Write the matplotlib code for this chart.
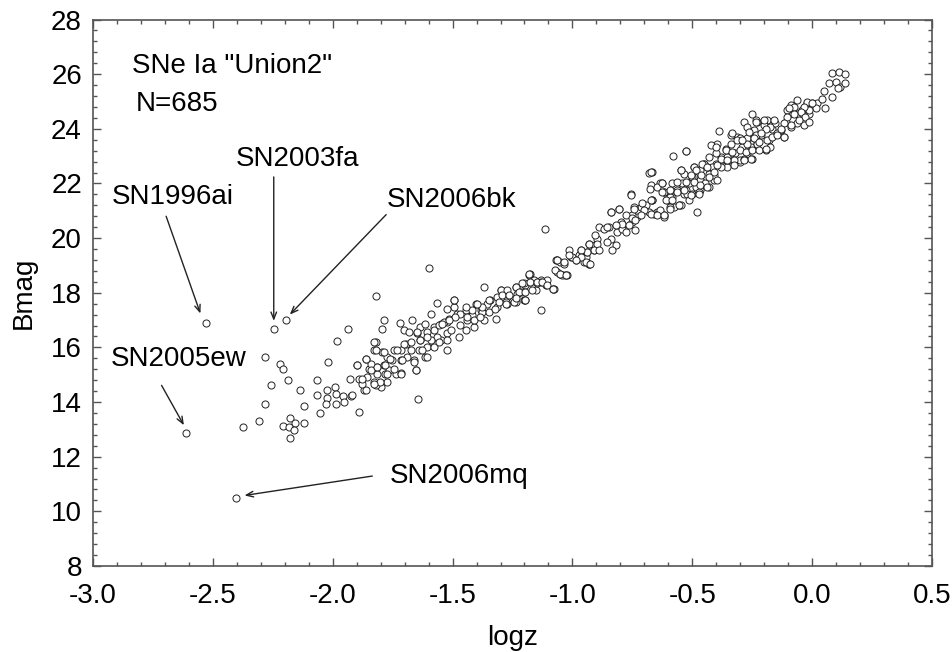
import matplotlib
matplotlib.use("Agg")
import matplotlib.pyplot as plt

plt.rcParams['font.family'] = ['Liberation Sans', 'DejaVu Sans']

# logz / Bmag values, grouped roughly by region
logz_low = [-2.529, -2.243, -2.193, -2.610, -2.405,
            -1.599, -1.821, -1.564, -1.592, -1.788, -1.720, -1.670, -1.938, -1.794,
            -1.981, -2.283, -2.222, -2.207, -2.019, -2.258, -2.187, -2.066, -2.137,
            -2.067, -2.282, -2.119, -2.373, -2.307, -2.180, -2.206, -2.159, -2.183,
            -2.161, -2.180, -2.119, -2.051, -2.025, -1.990, -2.023, -1.987, -1.956,
            -1.923, -2.026, -1.988, -1.954, -1.891, -1.643]
bmag_low = [16.89, 16.66, 17.02, 12.88, 10.50,
            18.90, 17.88, 17.63, 17.24, 17.02, 16.91, 17.00, 16.67, 16.66,
            16.22, 15.64, 15.39, 15.20, 15.48, 14.61, 14.81, 14.81, 14.45,
            14.25, 13.91, 13.84, 13.09, 13.29, 13.43, 13.14, 13.23, 13.09,
            12.96, 12.69, 13.22, 13.61, 14.43, 14.55, 14.14, 14.28, 14.23,
            14.22, 13.91, 13.94, 14.00, 13.63, 14.10]

logz_band1 = [-1.898, -1.863, -1.828, -1.821, -1.794, -1.773, -1.745, -1.717, -1.696, -1.675,
              -1.647, -1.634, -1.606, -1.578, -1.550, -1.522, -1.849, -1.814, -1.787, -1.766,
              -1.738, -1.717, -1.891, -1.856, -1.828, -1.800, -1.773, -1.870, -1.926, -1.689,
              -1.662, -1.654, -1.613, -1.578, -1.550, -1.522, -1.522, -1.641, -1.606, -1.564,
              -1.717, -1.752, -1.842, -1.814, -1.877, -1.821, -1.780, -1.703, -1.634, -1.592]
bmag_band1 = [15.35, 15.59, 15.89, 16.20, 15.83, 15.65, 15.89, 15.89, 16.14, 16.20,
              16.51, 16.26, 16.57, 16.75, 16.87, 16.93, 15.22, 15.28, 15.34, 15.16,
              15.04, 15.06, 14.86, 14.92, 14.73, 14.55, 14.73, 14.43, 14.86, 15.65,
              15.53, 15.16, 15.65, 16.14, 16.26, 16.51, 15.89, 15.89, 16.02, 16.38,
              15.53, 15.53, 15.41, 15.04, 14.67, 14.61, 15.04, 16.63, 16.75, 16.26]

logz_band2 = [-1.898, -1.863, -1.828, -1.821, -1.787, -1.759, -1.731, -1.703, -1.682, -1.648,
              -1.634, -1.613, -1.606, -1.578, -1.557, -1.536, -1.515, -1.508, -1.495, -1.481,
              -1.467, -1.446, -1.439, -1.418, -1.404, -1.383, -1.369, -1.356, -1.342, -1.314,
              -1.300, -1.279, -1.258, -1.237, -1.216, -1.196, -1.175, -1.154, -1.133, -1.112,
              -1.080, -1.063, -1.050, -1.029, -1.008, -0.973, -0.952, -0.931, -1.661, -1.654,
              -1.606, -1.578, -1.557, -1.522, -1.474, -1.446, -1.411, -1.376, -1.349, -1.314,
              -1.272, -1.237, -1.202, -1.627, -1.675, -1.710, -1.745, -1.773, -1.801, -1.828,
              -1.863, -1.919, -1.842, -1.814, -1.877, -1.717, -1.780,
              -1.367, -1.179, -1.133, -1.318, -1.492]
bmag_band2 = [15.34, 15.59, 16.20, 15.89, 15.83, 15.59, 15.89, 16.14, 16.57, 16.57,
              16.26, 16.87, 16.38, 16.63, 16.81, 16.93, 17.05, 16.63, 17.48, 17.24,
              16.81, 17.36, 16.99, 17.18, 17.60, 17.36, 16.99, 17.60, 17.73, 17.85,
              18.09, 17.97, 17.73, 18.21, 18.03, 18.28, 18.40, 18.09, 18.46, 18.34,
              18.15, 19.19, 18.70, 18.64, 19.31, 19.37, 19.13, 19.07, 15.47, 15.16,
              15.65, 16.02, 16.20, 16.26, 16.38, 16.63, 16.75, 17.30, 17.30, 17.48,
              17.60, 17.66, 17.73, 15.89, 15.89, 15.53, 15.22, 15.04, 14.73, 14.67,
              14.43, 14.25, 15.16, 15.28, 14.86, 15.04, 15.34,
              18.21, 18.67, 17.36, 17.03, 17.75]

logz_band3 = [-1.300, -1.272, -1.237, -1.203, -1.182, -1.161, -1.133, -1.112, -1.077, -1.196,
              -1.244, -1.070, -1.050, -1.036, -1.064, -1.043, -1.022, -1.015, -0.987, -0.966,
              -0.945, -0.931, -0.931, -0.911, -0.890, -0.897, -0.904, -0.848, -0.841, -0.820,
              -0.834, -0.813, -0.792, -0.778, -0.751, -0.737, -0.730, -0.751, -0.716, -0.695,
              -0.667, -0.681, -0.646, -0.619, -0.605, -0.584, -0.570, -0.556, -0.535, -0.514,
              -0.493, -0.466, -0.438, -0.403, -0.382, -0.340, -0.299, -0.271, -0.528, -0.500,
              -0.466, -0.431, -0.410, -0.466, -0.493, -0.452, -0.354, -0.577, -0.591, -0.744,
              -0.799, -0.869, -0.938, -1.001, -1.105, -1.147, -1.230, -1.279,
              -1.115, -0.581, -0.528, -0.482, -0.755, -0.838, -0.804, -0.681, -0.670, -0.674,
              -0.678, -0.627, -0.619, -0.549]
bmag_band3 = [18.09, 17.85, 18.21, 18.34, 18.64, 18.46, 18.40, 18.27, 18.15, 17.73,
              17.66, 19.19, 19.13, 19.07, 18.76, 18.64, 18.64, 19.56, 19.19, 19.56,
              19.31, 19.07, 19.80, 19.56, 20.41, 19.98, 19.74, 20.41, 19.98, 19.74,
              19.56, 20.23, 20.35, 20.23, 20.60, 20.29, 20.78, 20.84, 21.14, 21.21,
              21.39, 20.96, 20.96, 20.84, 21.39, 21.51, 21.88, 21.21, 21.63, 22.00,
              22.24, 22.49, 22.61, 22.73, 22.98, 22.85, 22.79, 22.98, 21.75, 21.63,
              21.75, 21.88, 22.12, 22.12, 22.61, 22.73, 22.61, 21.14, 21.63, 21.14,
              20.60, 20.35, 19.50, 19.31, 18.46, 18.34, 17.97, 17.66,
              20.35, 23.00, 23.18, 20.96, 21.60, 20.94, 21.06, 22.37, 22.43, 21.94,
              21.78, 22.00, 21.67, 22.49]

logz_high = [-0.674, -0.633, -0.619, -0.591, -0.563, -0.542, -0.521, -0.500, -0.486, -0.466,
             -0.452, -0.431, -0.417, -0.403, -0.375, -0.361, -0.340, -0.320, -0.299, -0.292,
             -0.271, -0.257, -0.229, -0.215, -0.194, -0.181, -0.167, -0.153, -0.132, -0.111,
             -0.097, -0.090, -0.062, -0.041, -0.021, 0.000, -0.035, -0.062, -0.090, -0.187,
             -0.201, -0.229, -0.257, -0.313, -0.340, -0.327, -0.382, -0.410, -0.445, -0.473,
             -0.514, -0.549, -0.591, -0.633, -0.660, -0.619, -0.667, -0.646, -0.584, -0.535,
             -0.493, -0.431, -0.396, -0.354, -0.299, -0.243, -0.146, -0.104, -0.076, -0.014,
             0.021, -0.174, -0.396,
             0.084, 0.112, 0.137, 0.070, 0.098, 0.118, 0.139, 0.049, 0.042, 0.084,
             0.052, 0.017, -0.065, -0.250, -0.285, -0.389, -0.525, -0.118, 0.109]
bmag_high = [22.43, 22.00, 21.69, 21.51, 21.75, 22.00, 21.63, 22.24, 21.88, 22.12,
             22.73, 22.36, 22.61, 23.10, 22.85, 23.28, 23.46, 23.10, 22.85, 23.34,
             23.59, 23.22, 23.52, 23.77, 23.22, 23.59, 24.01, 24.20, 23.95, 24.26,
             24.56, 24.87, 24.56, 24.68, 24.93, 24.93, 24.13, 24.20, 24.07, 24.32,
             24.13, 24.26, 23.77, 23.71, 23.77, 22.85, 22.61, 22.30, 22.00, 21.69,
             21.39, 21.20, 21.14, 21.02, 20.90, 20.78, 21.39, 21.88, 22.00, 22.36,
             22.61, 22.97, 23.46, 22.97, 23.65, 23.95, 23.83, 24.68, 24.81, 24.56,
             24.93, 23.34, 22.12,
             26.05, 26.09, 26.00, 25.66, 25.72, 25.54, 25.66, 25.39, 25.11, 25.15,
             24.75, 24.75, 25.07, 24.56, 24.26, 23.93, 23.20, 23.71, 25.51]

# extra points from closer reads of the dense band
logz_band4 = [-0.236, -0.271, -0.333, -0.312, -0.271, -0.236, -0.424, -0.403, -0.361, -0.333,
              -0.299, -0.257, -0.229, -0.382, -0.354, -0.326, -0.285, -0.250, -0.459, -0.438,
              -0.410, -0.396, -0.486, -0.465, -0.431, -0.507, -0.549, -0.528, -0.493, -0.466,
              -0.438, -0.563, -0.591, -0.563, -0.535, -0.507, -0.472, -0.625, -0.625, -0.611,
              -0.584, -0.556, -0.755, -0.806, -0.841, -0.709, -0.674, -0.744, -0.702, -0.716,
              -0.674, -0.646, -0.618, -0.591, -0.778, -0.751, -0.792, -0.764, -0.737, -0.820,
              -0.855,
              -0.021, 0.000, -0.014, -0.035, -0.048, -0.028, -0.014, -0.055, -0.076, -0.097,
              -0.104, -0.090, -0.118, -0.132, -0.160, -0.174, -0.201, -0.194, -0.215, -0.236,
              -0.264, -0.243, -0.222, -0.188, -0.167, -0.146, -0.118, -0.271, -0.292, -0.278,
              -0.250, -0.222, -0.194, -0.257, -0.285,
              -0.904, -0.932, -0.897, -0.911, -0.939, -0.966, -0.966, -0.987, -1.015, -0.945,
              -0.925, -0.890, -1.064, -1.036, -1.071, -1.050, -1.025, -0.855,
              -1.182, -1.210, -1.175, -1.147, -1.126, -1.108, -1.080, -1.224, -1.196, -1.168,
              -1.272, -1.293, -1.265, -1.237, -1.196, -1.307, -1.279, -1.321, -1.349, -1.376,
              -1.397, -1.418, -1.446, -1.467, -1.495, -1.522, -1.488, -1.439, -1.411, -1.384,
              -1.515, -1.543]
bmag_band4 = [24.32, 24.07, 23.83, 23.59, 23.65, 23.77, 23.40, 23.34, 23.22, 23.16,
              23.22, 23.34, 23.46, 22.91, 22.85, 22.67, 22.91, 22.91, 22.73, 22.61,
              22.43, 22.67, 22.49, 22.30, 22.24, 22.30, 22.49, 22.06, 22.06, 21.94,
              21.88, 22.06, 21.75, 21.69, 21.75, 21.57, 21.63, 22.00, 21.69, 21.39,
              21.39, 21.21, 21.57, 21.08, 20.96, 21.27, 21.39, 21.08, 21.02, 20.84,
              20.90, 20.84, 20.84, 21.08, 20.84, 20.72, 20.53, 20.47, 20.65, 20.47,
              20.41,
              24.99, 24.93, 24.69, 24.81, 24.62, 24.44, 24.26, 24.32, 24.56, 24.75,
              24.44, 24.14, 24.20, 24.01, 24.32, 24.07, 24.32, 24.01, 23.83, 24.26,
              23.89, 23.65, 23.52, 23.59, 23.71, 23.77, 23.71, 23.46, 23.59, 23.16,
              23.22, 23.22, 23.28, 22.91, 22.85,
              20.11, 19.80, 19.80, 19.56, 19.50, 19.56, 19.31, 19.19, 19.37, 19.13,
              19.07, 19.56, 19.19, 19.13, 18.82, 18.70, 18.64, 19.86,
              18.68, 18.34, 18.40, 18.40, 18.40, 18.28, 18.15, 18.03, 18.03, 18.09,
              18.09, 17.91, 17.91, 17.79, 17.73, 17.66, 17.60, 17.42, 17.73, 17.48,
              17.60, 17.36, 17.48, 17.24, 17.73, 17.42, 17.12, 17.12, 16.99, 17.12,
              16.99, 16.87]

logz = logz_low + logz_band1 + logz_band2 + logz_band3 + logz_high + logz_band4
bmag = bmag_low + bmag_band1 + bmag_band2 + bmag_band3 + bmag_high + bmag_band4

# labelled supernovae: name, text position, arrow tail, arrow tip
sn_names = ["SN1996ai", "SN2003fa", "SN2006bk", "SN2005ew", "SN2006mq"]
sn_text = [(-2.920, 21.52), (-2.405, 22.89), (-1.773, 21.41), (-2.927, 15.57), (-1.762, 11.30)]
sn_tail = [(-2.695, 20.80), (-2.246, 22.24), (-1.777, 20.86), (-2.714, 14.61), (-1.835, 11.29)]
sn_tip = [(-2.552, 17.24), (-2.246, 16.97), (-2.179, 17.20), (-2.621, 13.15), (-2.368, 10.58)]

fig = plt.figure(figsize=(9.52, 6.52), dpi=100)
ax = fig.add_axes([0.0977, 0.132, 0.8813, 0.838])

ax.scatter(logz, bmag, s=26, facecolors='white', edgecolors='#222222', linewidths=0.7, zorder=3)

for name, txt, tail, tip in zip(sn_names, sn_text, sn_tail, sn_tip):
    ax.annotate('', xy=tip, xytext=tail,
                arrowprops=dict(arrowstyle='->,head_length=0.5,head_width=0.2',
                                color='#222222', lw=1.0, shrinkA=0, shrinkB=0))
    ax.text(txt[0], txt[1], name, fontsize=20, ha='left', va='center')

ax.text(-2.836, 26.30, 'SNe Ia "Union2"', fontsize=20, ha='left', va='center')
ax.text(-2.823, 24.90, 'N=685', fontsize=20, ha='left', va='center')

ax.set_xlim(-3.0, 0.5)
ax.set_ylim(8, 28)
ax.set_xticks([-3.0, -2.5, -2.0, -1.5, -1.0, -0.5, 0.0, 0.5])
ax.set_xticklabels(['-3.0', '-2.5', '-2.0', '-1.5', '-1.0', '-0.5', '0.0', '0.5'])
ax.set_yticks(range(8, 29, 2))
ax.set_xticks([x / 10 for x in range(-30, 6)], minor=True)
ax.set_yticks([8 + 0.4 * i for i in range(51)], minor=True)

ax.tick_params(which='both', direction='in', top=True, right=True, color='#555555', width=1.0)
ax.tick_params(which='major', length=6, labelsize=20)
ax.tick_params(axis='y', which='major', pad=8)
ax.tick_params(axis='x', which='major', pad=12)
ax.tick_params(which='minor', length=3)
for sp in ax.spines.values():
    sp.set_color('#555555')
    sp.set_linewidth(1.2)

ax.set_xlabel('logz', fontsize=20, labelpad=12)
ax.set_ylabel('Bmag', fontsize=20, labelpad=10)

fig.savefig('out.png', dpi=100)
